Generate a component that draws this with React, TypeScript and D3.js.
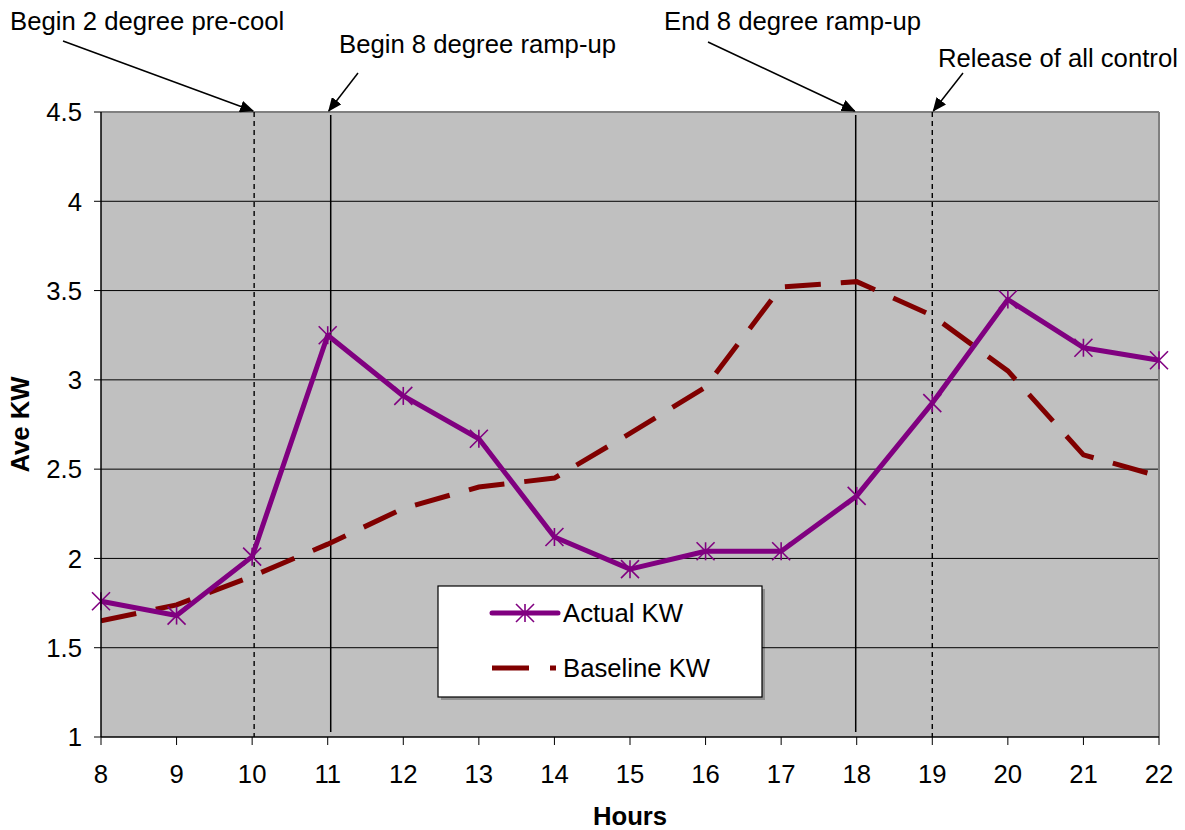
import React from "react";
import * as d3 from "d3";

const hours = [8, 9, 10, 11, 12, 13, 14, 15, 16, 17, 18, 19, 20, 21, 22];
const actualKW = [1.76, 1.68, 2.01, 3.25, 2.91, 2.67, 2.12, 1.94, 2.04, 2.04, 2.35, 2.87, 3.45, 3.18, 3.11];
const baselineKW = [1.65, 1.74, 1.9, 2.08, 2.28, 2.4, 2.45, 2.7, 2.96, 3.52, 3.55, 3.36, 3.05, 2.58, 2.46];
const yTicks = [1, 1.5, 2, 2.5, 3, 3.5, 4, 4.5];
const yTickLabels = ["1", "1.5", "2", "2.5", "3", "3.5", "4", "4.5"];
const eventHours = [10, 11, 18, 19];
const eventDashed = [true, false, false, true];
const eventLabels = ["Begin 2 degree pre-cool", "Begin 8 degree ramp-up", "End 8 degree ramp-up", "Release of all control"];

const W = 1185;
const H = 830;
const M = { left: 101, right: 26, top: 112, bottom: 93 };
const FONT = "'Liberation Sans', Arial, sans-serif";
const FS = 25.7;

export default function App() {
  const x = d3.scaleLinear().domain([8, 22]).range([M.left, W - M.right]);
  const y = d3.scaleLinear().domain([1, 4.5]).range([H - M.bottom, M.top]);
  const x0 = x(8), x1 = x(22), y0 = y(1), y1 = y(4.5);

  const line = d3
    .line<number>()
    .x((_, i) => x(hours[i]))
    .y((v) => y(v));

  const annot = [
    { off: 2, short: false, lx: 10, ly: 30, ax: 63, ay: 41, tipOff: 1 },
    { off: 3, short: true, lx: 339, ly: 53, ax: 358, ay: 73, tipOff: 1 },
    { off: -1, short: true, lx: 664, ly: 30, ax: 708, ay: 42, tipOff: -2 },
    { off: 0, short: false, lx: 938, ly: 67, ax: 963, ay: 73, tipOff: 1 },
  ];

  const star = (cx: number, cy: number, key: string, r = 9) => (
    <g key={key} stroke="#800080" strokeWidth={1.6}>
      <line x1={cx - r} y1={cy - r} x2={cx + r} y2={cy + r} />
      <line x1={cx - r} y1={cy + r} x2={cx + r} y2={cy - r} />
      <line x1={cx} y1={cy - r} x2={cx} y2={cy + r} />
    </g>
  );

  return (
    <svg width={W} height={H} style={{ position: "absolute", left: 0, top: 0, background: "#fff" }} fontFamily={FONT}>
      <defs>
        <marker id="ahb" viewBox="0 0 14 12" refX="13" refY="6" markerWidth="14" markerHeight="12" markerUnits="userSpaceOnUse" orient="auto">
          <path d="M0,0 L14,6 L0,12 z" fill="#000" />
        </marker>
        <clipPath id="plot">
          <rect x={x0} y={y1} width={x1 - x0} height={y0 - y1} />
        </clipPath>
      </defs>

      <rect x={x0} y={y1} width={x1 - x0} height={y0 - y1} fill="#C0C0C0" />
      {yTicks.slice(1, -1).map((t) => (
        <line key={t} x1={x0} x2={x1} y1={y(t)} y2={y(t)} stroke="#000" strokeWidth={1} />
      ))}
      <line x1={x0} x2={x1} y1={y1} y2={y1} stroke="#808080" strokeWidth={2} />
      <line x1={x1} x2={x1} y1={y1} y2={y0} stroke="#808080" strokeWidth={2} />

      {eventHours.map((h, i) => {
        const a = annot[i];
        const ex = x(h) + a.off;
        return (
          <line
            key={"ev" + h}
            x1={ex}
            x2={ex}
            y1={y1 + (a.short ? 3 : 0)}
            y2={y0 - (a.short ? 5 : 0)}
            stroke="#000"
            strokeWidth={a.short ? 1.5 : 1.4}
            strokeDasharray={eventDashed[i] ? "5 4" : undefined}
          />
        );
      })}

      <g clipPath="url(#plot)">
        <path d={line(baselineKW) || ""} fill="none" stroke="#800000" strokeWidth={5} strokeDasharray="36 20" />
      </g>
      <path d={line(actualKW) || ""} fill="none" stroke="#800080" strokeWidth={5} strokeLinejoin="round" />
      {actualKW.map((v, i) => star(x(hours[i]), y(v), "s" + i))}

      <line x1={x0} x2={x0} y1={y1} y2={y0} stroke="#000" strokeWidth={1.5} />
      <line x1={x0} x2={x1} y1={y0} y2={y0} stroke="#000" strokeWidth={1.5} />
      {yTicks.map((t, i) => (
        <g key={"yt" + t}>
          <line x1={x0 - 7} x2={x0} y1={y(t)} y2={y(t)} stroke="#000" strokeWidth={1} />
          <text x={x0 - 19} y={y(t)} dy="0.36em" textAnchor="end" fontSize={FS} fill="#000">
            {yTickLabels[i]}
          </text>
        </g>
      ))}
      {hours.map((h) => (
        <g key={"xt" + h}>
          <line x1={x(h)} x2={x(h)} y1={y0} y2={y0 + 8} stroke="#000" strokeWidth={1} />
          <text x={x(h)} y={783} textAnchor="middle" fontSize={FS} fill="#000">
            {h}
          </text>
        </g>
      ))}
      <text x={(x0 + x1) / 2} y={825} textAnchor="middle" fontSize={FS} fontWeight="bold">
        Hours
      </text>
      <text transform={`translate(29, ${(y0 + y1) / 2}) rotate(-90)`} textAnchor="middle" fontSize={FS} fontWeight="bold">
        Ave KW
      </text>

      {eventHours.map((h, i) => {
        const a = annot[i];
        return (
          <g key={"an" + h}>
            <text x={a.lx} y={a.ly} fontSize={FS} fill="#000">
              {eventLabels[i]}
            </text>
            <line x1={a.ax} y1={a.ay} x2={x(h) + a.tipOff} y2={y1 - 1} stroke="#000" strokeWidth={1.5} markerEnd="url(#ahb)" />
          </g>
        );
      })}

      <rect x={441} y={589} width={324} height={111} fill="#000" opacity={0.25} />
      <rect x={438} y={586} width={324} height={111} fill="#fff" stroke="#000" strokeWidth={1.2} />
      <line x1={492} x2={558} y1={613} y2={613} stroke="#800080" strokeWidth={5} strokeLinecap="round" />
      {star(525, 613, "legstar")}
      <text x={563} y={622} fontSize={FS}>Actual KW</text>
      <line x1={492} x2={556} y1={668} y2={668} stroke="#800000" strokeWidth={5} strokeDasharray="37 21" />
      <text x={563} y={677} fontSize={FS}>Baseline KW</text>
    </svg>
  );
}
